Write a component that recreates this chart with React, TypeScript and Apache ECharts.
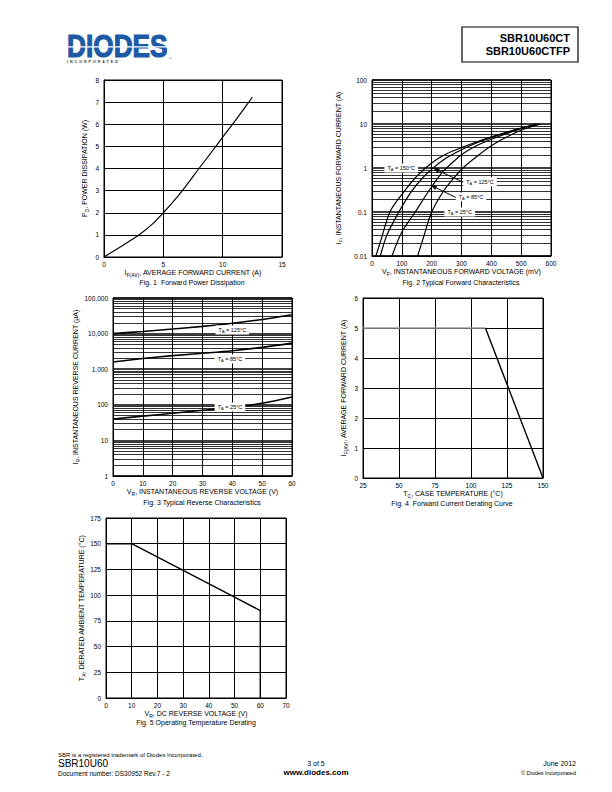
import React, { useEffect, useRef } from "react";
import * as echarts from "echarts";

const FONT = "'Liberation Sans', Arial, Helvetica, sans-serif";

// Fig. 1 Forward Power Dissipation
const fig1Current = [0, 1, 2, 3, 4, 5, 6, 7, 8, 9, 10, 11, 12, 12.5];
const fig1Power = [0, 0.33, 0.67, 1.02, 1.45, 2.0, 2.6, 3.28, 4.0, 4.7, 5.42, 6.12, 6.85, 7.22];

// Fig. 2 Typical Forward Characteristics (mV, A)
const fig2Vf150 = [13, 30, 60, 100, 150, 200, 250, 300, 350, 400, 450, 500, 550];
const fig2If150 = [0.01, 0.023, 0.1, 0.25, 0.65, 1.3, 2.1, 2.9, 3.9, 5.1, 6.5, 8.1, 10];
const fig2Vf125 = [28, 50, 90, 130, 170, 205, 250, 300, 350, 400, 450, 500, 555];
const fig2If125 = [0.01, 0.03, 0.1, 0.28, 0.6, 1.0, 1.7, 2.6, 3.7, 4.9, 6.3, 8, 10];
const fig2Vf85 = [67, 100, 145, 190, 235, 250, 300, 350, 400, 450, 500, 560];
const fig2If85 = [0.01, 0.035, 0.1, 0.3, 0.8, 1.0, 2.0, 3.2, 4.5, 6, 7.8, 10];
const fig2Vf25 = [153, 175, 200, 240, 275, 305, 350, 400, 450, 500, 565];
const fig2If25 = [0.01, 0.03, 0.1, 0.3, 0.6, 1.0, 1.8, 3.2, 5, 7.2, 10];

// Fig. 3 Typical Reverse Characteristics (V, uA)
const fig3Vr = [0, 10, 20, 30, 40, 50, 60];
const fig3Ir125 = [10000, 11500, 13500, 16000, 19500, 25000, 34000];
const fig3Ir85 = [1600, 2000, 2400, 2800, 3300, 4100, 5400];
const fig3Ir25 = [40, 48, 58, 70, 85, 110, 165];

// Fig. 4 Forward Current Derating Curve
const fig4Tc = [25, 110, 150];
const fig4If = [5, 5, 0];

// Fig. 5 Operating Temperature Derating
const fig5Vr = [0, 10, 30, 50, 60, 60];
const fig5Ta = [150, 150, 124, 98, 85, 0];

// Annotation anchors (data coordinates)
const fig2Labels = [
  { t: "150°C", x: 98, y: 1.0 },
  { t: "125°C", x: 362, y: 0.49 },
  { t: "85°C", x: 332, y: 0.22 },
  { t: "25°C", x: 294, y: 0.1 },
];
const fig2Arrows = [
  { from: [307, 0.47], to: [215, 0.92] },
  { from: [290, 0.2], to: [206, 0.38] },
];
const fig3Labels = [
  { t: "125°C", x: 40, y: 12600 },
  { t: "85°C", x: 39.2, y: 1940 },
  { t: "25°C", x: 39.2, y: 87 },
];

const zip = (a: number[], b: number[]) => a.map((v, i) => [v, b[i]]);

const minorLines = (e0: number, e1: number) => {
  const out: any[] = [];
  for (let e = e0; e < e1; e++) {
    for (let m = 2; m <= 9; m++) out.push({ yAxis: Number((m * Math.pow(10, e)).toPrecision(3)) });
  }
  return out;
};

const grids = [
  { left: 104, top: 80, width: 178, height: 177 },
  { left: 372, top: 80, width: 179, height: 176 },
  { left: 113, top: 298, width: 179, height: 178 },
  { left: 363, top: 298, width: 180, height: 180 },
  { left: 106, top: 518, width: 180, height: 180 },
];

const rich = {
  n: { fontSize: 7, fontFamily: FONT, color: "#000" },
  s: { fontSize: 5, fontFamily: FONT, color: "#000", padding: [4, 0, 0, 0] },
};

function xAxis(gi: number, min: number, max: number, interval: number, name: string) {
  return {
    type: "value",
    gridIndex: gi,
    min,
    max,
    interval,
    name,
    nameLocation: "middle",
    nameGap: 11,
    nameTextStyle: { fontSize: 7, fontFamily: FONT, color: "#000", rich },
    axisLine: { show: true, onZero: false, lineStyle: { color: "#000", width: 1 } },
    axisTick: { show: false },
    axisLabel: { color: "#000", fontSize: 6.5, fontFamily: FONT, margin: 4 },
    splitLine: { show: true, lineStyle: { color: "#000", width: 1 } },
  };
}

function yAxis(gi: number, min: number, max: number, interval: number, name: string, gap: number) {
  return {
    type: "value",
    gridIndex: gi,
    min,
    max,
    interval,
    name,
    nameLocation: "middle",
    nameRotate: 90,
    nameGap: gap,
    nameTextStyle: { fontSize: 7, fontFamily: FONT, color: "#000", rich },
    axisLine: { show: true, onZero: false, lineStyle: { color: "#000", width: 1 } },
    axisTick: { show: false },
    axisLabel: { color: "#000", fontSize: 6.5, fontFamily: FONT, margin: 5 },
    splitLine: { show: true, lineStyle: { color: "#000", width: 1 } },
  };
}

function logAxis(gi: number, min: number, max: number, name: string, gap: number, fmt: (v: number) => string) {
  return {
    type: "log",
    logBase: 10,
    gridIndex: gi,
    min,
    max,
    name,
    nameLocation: "middle",
    nameRotate: 90,
    nameGap: gap,
    nameTextStyle: { fontSize: 7, fontFamily: FONT, color: "#000", rich },
    axisLine: { show: true, lineStyle: { color: "#000", width: 1 } },
    axisTick: { show: false },
    axisLabel: { color: "#000", fontSize: 6.5, fontFamily: FONT, margin: 5, formatter: fmt },
    splitLine: { show: true, lineStyle: { color: "#000", width: 1.6 } },
  };
}

const lineSeries = (xi: number, data: number[][], extra: any = {}) => ({
  type: "line",
  xAxisIndex: xi,
  yAxisIndex: xi,
  data,
  showSymbol: false,
  symbol: "none",
  lineStyle: { color: "#000", width: 1.2 },
  silent: true,
  ...extra,
});

const minorMark = (e0: number, e1: number) => ({
  silent: true,
  symbol: "none",
  label: { show: false },
  lineStyle: { color: "#000", width: 0.8, type: "solid" },
  data: minorLines(e0, e1),
});

function buildOption() {
  return {
    animation: false,
    backgroundColor: "#fff",
    grid: grids.map((g) => ({ ...g, show: true, borderColor: "#000", borderWidth: 1, backgroundColor: "transparent" })),
    xAxis: [
      xAxis(0, 0, 15, 5, "{n|I}{s|F(AV)}{n|, AVERAGE FORWARD CURRENT (A)}"),
      xAxis(1, 0, 600, 100, "{n|V}{s|F}{n|, INSTANTANEOUS FORWARD VOLTAGE (mV)}"),
      xAxis(2, 0, 60, 10, "{n|V}{s|R}{n|, INSTANTANEOUS REVERSE VOLTAGE (V)}"),
      xAxis(3, 25, 150, 25, "{n|T}{s|C}{n|, CASE TEMPERATURE (°C)}"),
      xAxis(4, 0, 70, 10, "{n|V}{s|R}{n|, DC REVERSE VOLTAGE (V)}"),
    ],
    yAxis: [
      yAxis(0, 0, 8, 1, "{n|P}{s|D}{n|, POWER DISSIPATION (W)}", 15),
      logAxis(1, 0.01, 100, "{n|I}{s|F}{n|, INSTANTANEOUS FORWARD CURRENT (A)}", 29, (v: number) => String(Number(v.toPrecision(3)))),
      logAxis(2, 1, 100000, "{n|I}{s|R}{n|, INSTANTANEOUS REVERSE CURRENT (µA)}", 33, (v: number) =>
        Math.round(v).toLocaleString("en-US")
      ),
      yAxis(3, 0, 6, 1, "{n|I}{s|F(AV)}{n|, AVERAGE FORWARD CURRENT (A)}", 15),
      yAxis(4, 0, 175, 25, "{n|T}{s|A}{n|, DERATED AMBIENT TEMPERATURE (°C)}", 20),
    ],
    series: [
      lineSeries(0, zip(fig1Current, fig1Power), { smooth: 0.35 }),
      lineSeries(1, zip(fig2Vf150, fig2If150), { smooth: 0.3, markLine: minorMark(-2, 2) }),
      lineSeries(1, zip(fig2Vf125, fig2If125), {
        smooth: 0.3,
        markLine: {
          silent: true,
          symbol: ["none", "triangle"],
          symbolSize: [5, 6],
          label: { show: false },
          lineStyle: { color: "#000", width: 1, type: "solid" },
          data: fig2Arrows.map((a) => [{ coord: a.from }, { coord: a.to }]),
        },
      }),
      lineSeries(1, zip(fig2Vf85, fig2If85), { smooth: 0.3 }),
      lineSeries(1, zip(fig2Vf25, fig2If25), { smooth: 0.3 }),
      lineSeries(2, zip(fig3Vr, fig3Ir125), { smooth: 0.3, lineStyle: { color: "#000", width: 1.6 }, markLine: minorMark(0, 5) }),
      lineSeries(2, zip(fig3Vr, fig3Ir85), { smooth: 0.3, lineStyle: { color: "#000", width: 1.6 } }),
      lineSeries(2, zip(fig3Vr, fig3Ir25), { smooth: 0.3, lineStyle: { color: "#000", width: 1.6 } }),
      lineSeries(3, zip(fig4Tc, fig4If).slice(0, 2), { lineStyle: { color: "#9a9a9a", width: 1.6 } }),
      lineSeries(3, zip(fig4Tc, fig4If).slice(1), { lineStyle: { color: "#000", width: 1.4 } }),
      lineSeries(4, zip(fig5Vr, fig5Ta), { lineStyle: { color: "#000", width: 1.4 } }),
    ],
  };
}

const taRich = {
  a: { fontSize: 5.5, fontFamily: FONT, fill: "#000" },
  b: { fontSize: 4, fontFamily: FONT, fill: "#000", padding: [3, 0, 0, 0] },
};

function taLabel(p: number[], t: string) {
  return {
    type: "text",
    x: p[0],
    y: p[1],
    z: 100,
    style: {
      text: `{a|T}{b|A}{a| = ${t}}`,
      rich: taRich,
      align: "center",
      verticalAlign: "middle",
      backgroundColor: "#fff",
      padding: [1, 3, 1, 3],
    },
  };
}

function txt(x: number, y: number, text: string, size: number, align = "left", weight = "normal", extra: any = {}) {
  return {
    type: "text",
    x,
    y,
    style: {
      text,
      fill: "#000",
      fontSize: size,
      fontFamily: FONT,
      fontWeight: weight,
      align,
      verticalAlign: "middle",
      ...extra,
    },
  };
}

function buildGraphics(chart: any) {
  const g: any[] = [];
  // header logo
  g.push({
    type: "text",
    x: 67,
    y: 46,
    scaleX: 0.82,
    style: {
      text: "DIODES",
      fill: "#1c5aa6",
      stroke: "#1c5aa6",
      lineWidth: 1.2,
      fontSize: 32,
      fontWeight: "bold",
      fontFamily: FONT,
      align: "left",
      verticalAlign: "middle",
    },
  });
  g.push({ type: "rect", z: 10, shape: { x: 66, y: 46.2, width: 104, height: 1.3 }, style: { fill: "#fff" } });
  g.push(txt(67, 61.5, "I  N  C  O  R  P  O  R  A  T  E  D", 3.6, "left", "bold", { fill: "#333" }));
  g.push(txt(169, 58.5, "®", 3.5, "left", "normal", { fill: "#1c5aa6" }));
  // header part box
  g.push({ type: "rect", shape: { x: 462, y: 27, width: 116, height: 35 }, style: { fill: "none", stroke: "#000", lineWidth: 1.2 } });
  g.push(txt(570, 38, "SBR10U60CT", 11, "right", "bold"));
  g.push(txt(570, 50.5, "SBR10U60CTFP", 11, "right", "bold"));

  // captions
  g.push(txt(192, 282, "Fig. 1  Forward Power Dissipation", 7, "center"));
  g.push(txt(461, 282, "Fig. 2 Typical Forward Characteristics", 7, "center"));
  g.push(txt(202, 502, "Fig. 3 Typical Reverse Characteristics", 7, "center"));
  g.push(txt(452, 503, "Fig. 4  Forward Current Derating Curve", 7, "center"));
  g.push(txt(196, 722.5, "Fig. 5 Operating Temperature Derating", 7, "center"));

  // footer
  g.push(txt(58, 755, "SBR is a registered trademark of Diodes Incorporated.", 6));
  g.push(txt(58, 763.5, "SBR10U60", 10));
  g.push(txt(58, 773, "Document number: DS30952 Rev.7 - 2", 6.5));
  g.push(txt(316, 763.5, "3 of 5", 7, "center"));
  g.push(txt(316, 772.5, "www.diodes.com", 8, "center", "bold"));
  g.push(txt(576, 763.5, "June 2012", 7, "right"));
  g.push(txt(576, 772.5, "© Diodes Incorporated", 5.5, "right"));

  // curve labels
  fig2Labels.forEach((l) => {
    const p = chart.convertToPixel({ gridIndex: 1 }, [l.x, l.y]);
    g.push(taLabel(p, l.t));
  });
  fig3Labels.forEach((l) => {
    const p = chart.convertToPixel({ gridIndex: 2 }, [l.x, l.y]);
    g.push(taLabel(p, l.t));
  });
  return g;
}

export default function App() {
  const ref = useRef<HTMLDivElement>(null);
  useEffect(() => {
    const el = ref.current as HTMLDivElement;
    const chart = echarts.init(el, null, { renderer: "svg", width: 612, height: 792 });
    chart.setOption(buildOption() as any);
    chart.setOption({ graphic: buildGraphics(chart) } as any);
    return () => chart.dispose();
  }, []);
  return (
    <div
      ref={ref}
      style={{ position: "absolute", left: 0, top: 0, width: 612, height: 792, background: "#fff" }}
    />
  );
}
